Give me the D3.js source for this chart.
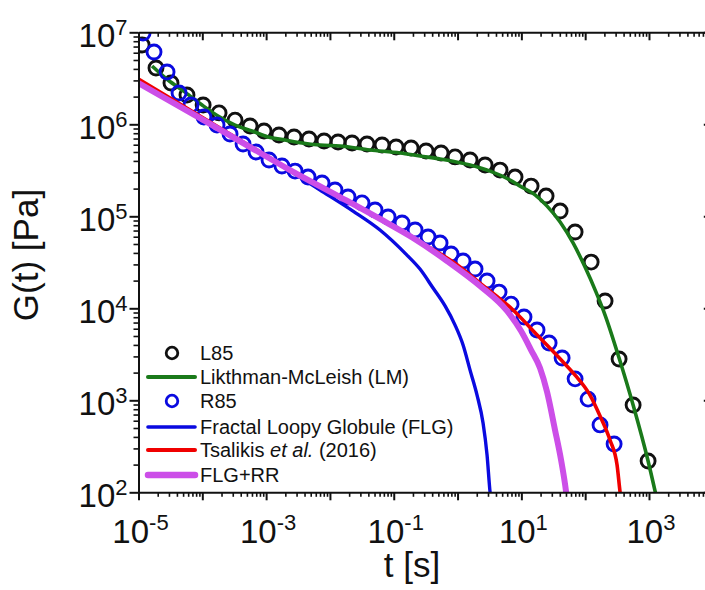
<!DOCTYPE html>
<html><head><meta charset="utf-8">
<script src="https://cdn.jsdelivr.net/npm/d3@7"></script>
<style>body{margin:0;background:#fff}svg{display:block}text{font-family:"Liberation Sans",Arial,sans-serif;fill:#111}</style>
</head><body><svg id="c" width="705" height="590"></svg>
<script>
// ---- data ----
const l85T=[1.14e-5,1.88e-5,3.23e-5,5.75e-5,1.03e-4,1.83e-4,3.26e-4,5.60e-4,9.27e-4,1.59e-3,2.74e-3,4.70e-3,8.09e-3,1.34e-2,2.22e-2,3.81e-2,6.56e-2,0.109,0.187,0.321,0.551,0.914,1.57,2.70,4.63,7.96,14.2,24.4,40.5,69.5,124,205,340,564,968];
const l85G=[7.28e6,4.09e6,2.81e6,2.08e6,1.62e6,1.33e6,1.11e6,9.59e5,8.45e5,7.66e5,7.28e5,6.92e5,6.58e5,6.43e5,6.27e5,6.11e5,5.96e5,5.66e5,5.52e5,5.13e5,4.88e5,4.42e5,4.09e5,3.61e5,3.18e5,2.67e5,2.13e5,1.66e5,1.14e5,6.75e4,3.18e4,1.20e4,2.81e3,889,219];
const r85T=[1.18e-5,1.75e-5,2.80e-5,4.32e-5,6.65e-5,1.06e-4,1.70e-4,2.72e-4,4.35e-4,6.95e-4,1.11e-3,1.77e-3,2.84e-3,4.54e-3,7.52e-3,1.20e-2,1.92e-2,3.18e-2,5.09e-2,8.15e-2,0.135,0.216,0.345,0.532,0.791,1.22,1.88,2.90,4.47,6.90,11.0,17.6,27.2,43.5,69.5,111,171,284];
const r85G=[9.83e6,6.11e6,3.70e6,2.19e6,1.62e6,1.20e6,9.82e5,7.85e5,6.11e5,5.00e5,4.09e5,3.52e5,3.10e5,2.67e5,2.30e5,1.93e5,1.62e5,1.40e5,1.17e5,9.82e4,8.45e4,7.10e4,5.96e4,5.13e4,3.89e4,3.27e4,2.67e4,1.98e4,1.50e4,1.11e4,8.04e3,5.81e3,4.20e3,2.88e3,1.71e3,1.03e3,540,335];
const lmT=[1.63e-5,2.90e-5,5.36e-5,9.89e-5,1.76e-4,3.26e-4,6.01e-4,1.07e-3,1.98e-3,3.66e-3,7.00e-3,1.44e-2,4.25e-2,0.126,0.258,0.532,1.57,3.23,6.65,9.55,16.4,25.3,40.5,64.6,99.5,148,205,340,564,968,1340];
const lmG=[4.30e6,3.03e6,2.24e6,1.62e6,1.23e6,9.82e5,8.45e5,7.28e5,6.75e5,6.27e5,5.96e5,5.81e5,5.26e5,4.88e5,4.52e5,4.20e5,3.61e5,3.10e5,2.48e5,2.13e5,1.71e5,1.29e5,8.67e4,5.13e4,2.81e4,1.50e4,8.45e3,2.88e3,889,219,82.4];
const flgT=[1e-5,9.20e-5,5.60e-4,2.37e-3,7.00e-3,2.30e-2,6.09e-2,0.161,0.258,0.413,0.637,0.914,1.22,1.57,2.02,2.51,2.90,3.23,3.35];
const flgG=[2.81e6,1.17e6,5.66e5,3.10e5,1.93e5,1.14e5,7.10e4,3.79e4,2.67e4,1.66e4,1.06e4,6.56e3,3.99e3,2.13e3,1.14e3,566,254,101,82.4];
const tsaT=[1e-5,9.20e-5,5.60e-4,2.37e-3,1.44e-2,6.09e-2,0.258,0.946,2.25,7.41,18.3,45.1,69.5,119,171,245,316,352,366];
const tsaG=[3.10e6,1.23e6,5.81e5,3.18e5,1.62e5,9.35e4,5.26e4,3.03e4,1.88e4,9.59e3,5.00e3,2.61e3,1.88e3,1.14e3,675,370,198,101,82.4];
const rrT=[1e-5,9.20e-5,5.60e-4,2.37e-3,1.44e-2,6.09e-2,0.201,0.684,2.25,5.97,9.89,14.2,19.6,25.3,33.7,41.9,50.2,52.0];
const rrG=[2.81e6,1.17e6,5.66e5,3.18e5,1.62e5,9.35e4,5.81e4,3.27e4,1.75e4,9.35e3,5.66e3,3.52e3,2.24e3,1.23e3,475,224,101,82.4];
const xLabelExps=[-5,-3,-1,1,3];
const yLabelExps=[2,3,4,5,6,7];
const legendLabels=["L85","Likthman-McLeish (LM)","R85","Fractal Loopy Globule (FLG)","Tsalikis et al. (2016)","FLG+RR"];

// ---- layout ----
const L=138.5,R=712.8,T=32.3,B=492.3;
const svg=d3.select("#c");
const x=d3.scaleLog().domain([1e-5,1e4]).range([L,R]);
const y=d3.scaleLog().domain([1e2,1e7]).range([B,T]);

const C={black:"#111",green:"#1a7a1a",blue:"#0a0ae0",red:"#f00000",mag:"#cc4ee8"};

svg.append("defs").append("clipPath").attr("id","clip").append("rect")
  .attr("x",L).attr("y",T).attr("width",R-L).attr("height",B-T);
const plot=svg.append("g").attr("clip-path","url(#clip)");

const zip=(a,b)=>a.map((v,i)=>[v,b[i]]);
const line=d3.line().x(d=>x(d[0])).y(d=>y(d[1])).curve(d3.curveMonotoneX);

function circles(T_,G_,col){
  plot.append("g").selectAll("circle").data(zip(T_,G_)).join("circle")
    .attr("cx",d=>x(d[0])).attr("cy",d=>y(d[1])).attr("r",7)
    .attr("fill","none").attr("stroke",col).attr("stroke-width",2.9);
}
function curve(T_,G_,col,w){
  plot.append("path").datum(zip(T_,G_)).attr("d",line)
    .attr("fill","none").attr("stroke",col).attr("stroke-width",w).attr("stroke-linejoin","round");
}
circles(l85T,l85G,C.black);
curve(lmT,lmG,C.green,3.6);
circles(r85T,r85G,C.blue);
curve(flgT,flgG,C.blue,3.4);
curve(tsaT,tsaG,C.red,3.6);
curve(rrT,rrG,C.mag,6);

// ---- axes ----
const xMaj=d3.range(-5,5).map(e=>Math.pow(10,e));
const xMin=[];d3.range(-5,4).forEach(e=>{for(let k=2;k<10;k++)xMin.push(k*Math.pow(10,e));});
const yMaj=d3.range(2,8).map(e=>Math.pow(10,e));
const yMin=[];d3.range(2,7).forEach(e=>{for(let k=2;k<10;k++)yMin.push(k*Math.pow(10,e));});

function ax(gen,tx,ty,vals,size,dom){
  const g=svg.append("g").attr("transform",`translate(${tx},${ty})`)
    .call(gen.tickValues(vals).tickSize(size).tickSizeOuter(0).tickFormat(""));
  g.selectAll(".tick line").attr("stroke","#111").attr("stroke-width",size>5?2:1.6);
  if(dom) g.select(".domain").attr("stroke","#111").attr("stroke-width",2);
  else g.select(".domain").remove();
}
ax(d3.axisBottom(x),0,B,xMaj,8,true);
ax(d3.axisBottom(x),0,B,xMin,4.5,false);
ax(d3.axisBottom(x),0,T,xMaj,8,true);   // top, inward
ax(d3.axisBottom(x),0,T,xMin,4.5,false);
ax(d3.axisLeft(y),L,0,yMaj,9,true);
ax(d3.axisLeft(y),L,0,yMin,5,false);
ax(d3.axisLeft(y),R,0,yMaj,9,true);     // right, inward
ax(d3.axisLeft(y),R,0,yMin,5,false);

// tick labels
xLabelExps.forEach(e=>{
  const t=svg.append("text").attr("x",x(Math.pow(10,e))+2).attr("y",B+51)
    .attr("text-anchor","middle").attr("font-size",33);
  t.append("tspan").text("10");
  t.append("tspan").attr("dy",-13).attr("font-size",22).text(e<0?"-"+(-e):String(e));
});
yLabelExps.forEach(e=>{
  const t=svg.append("text").attr("x",L-11).attr("y",y(Math.pow(10,e))+14.4)
    .attr("text-anchor","end").attr("font-size",33);
  t.append("tspan").text("10");
  t.append("tspan").attr("dy",-12).attr("font-size",22).text(String(e));
});

// axis titles
svg.append("text").attr("transform","translate(38,255) rotate(-90)")
  .attr("text-anchor","middle").attr("font-size",35).text("G(t) [Pa]");
svg.append("text").attr("x",412).attr("y",577)
  .attr("text-anchor","middle").attr("font-size",35).text("t [s]");

// ---- legend ----
const legY=[353,377,401,427,450,475];
const legStyle=[
  {type:"c",col:C.black},{type:"l",col:C.green,w:4},
  {type:"c",col:C.blue},{type:"l",col:C.blue,w:3.6},
  {type:"l",col:C.red,w:4},{type:"l",col:C.mag,w:6.5}];
const leg=svg.append("g");
legStyle.forEach((s,i)=>{
  const yy=legY[i];
  if(s.type==="c"){
    leg.append("circle").attr("cx",172).attr("cy",yy).attr("r",5.8)
      .attr("fill","none").attr("stroke",s.col).attr("stroke-width",2.8);
  }else{
    leg.append("line").attr("x1",148).attr("x2",195).attr("y1",yy).attr("y2",yy)
      .attr("stroke",s.col).attr("stroke-width",s.w).attr("stroke-linecap","round");
  }
  const t=leg.append("text").attr("x",200).attr("y",yy+7).attr("font-size",20);
  const lab=legendLabels[i];
  if(lab.indexOf("et al.")>=0){
    const parts=lab.split("et al.");
    t.append("tspan").text(parts[0]);
    t.append("tspan").attr("font-style","italic").text("et al.");
    t.append("tspan").text(parts[1]);
  }else t.text(lab);
});
</script></body></html>
